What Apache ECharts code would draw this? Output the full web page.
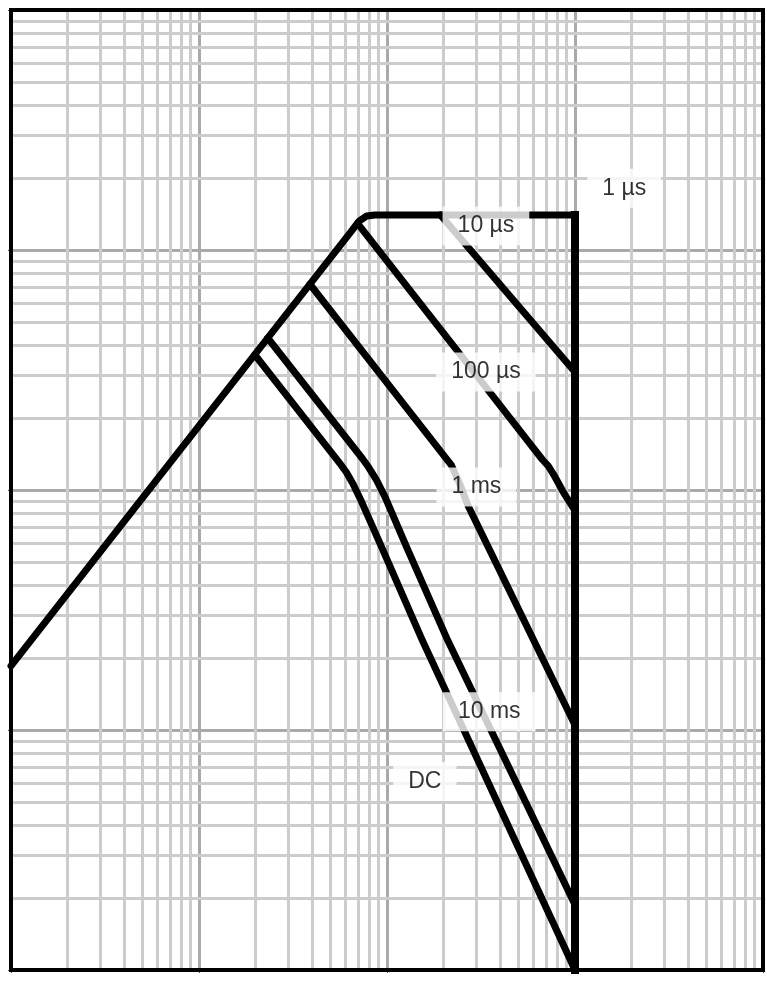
<!DOCTYPE html>
<html><head><meta charset="utf-8">
<script src="https://cdn.jsdelivr.net/npm/echarts@6/dist/echarts.min.js"></script>
<style>html,body{margin:0;padding:0;background:#fff}#c{width:767px;height:982px}</style>
</head><body><div id="c"></div>
<script>
// Axis decades (log-log SOA chart: V_DS [V] vs I_D [A]) – no tick labels shown
const xDecades = [0.1, 1, 10, 100, 1000];
const yDecades = [0.01, 0.1, 1, 10, 100];

// Curves [V, A]
const limitRdson = [[0.1,0.185],[6.5,12.04],[7.1,13.2],[7.8,13.85],[8.6,14],[100,14]];
const limitVds   = [[100,14],[100,0.01]];
const t10us  = [[19.24,14],[100,3.10]];
const t100us = [[6.97,12.9],[35,2.57],[67,1.34],[72,1.26],[77,1.16],[86,0.99],[100,0.82]];
const t1ms   = [[3.89,7.2],[22,1.27],[24.5,1.05],[27,0.86],[100,0.105]];
const t10ms  = [[2.32,4.3],[7.41,1.35],[8.0,1.24],[8.8,1.10],[9.8,0.93],[12.7,0.579],[21,0.237],[100,0.0187]];
const tDC    = [[1.98,3.66],[5.6,1.295],[6.1,1.18],[6.6,1.06],[7.2,0.92],[9.35,0.579],[15.4,0.237],[100,0.01]];

// Curve labels and their anchor points [V, A]
const labelTexts = ['1 µs','10 µs','100 µs','1 ms','10 ms','DC'];
const labelAnchors = [[182.7,18.1],[33.6,12.6],[33.6,3.1],[29.9,1.03],[35.0,0.119],[15.9,0.061]];

const minorMult = [2,3,4,5,6,7,8,9];
const xMinor = [], yMinor = [];
xDecades.slice(0,-1).forEach(d => minorMult.forEach(m => xMinor.push(+(d*m).toPrecision(3))));
yDecades.slice(0,-1).forEach(d => minorMult.forEach(m => yMinor.push(+(d*m).toPrecision(3))));

const chart = echarts.init(document.getElementById('c'));
const curveStyle = {color:'#000', width:7, join:'round', cap:'round'};
function curve(name, data, extra){
  return Object.assign({name, type:'line', data, symbol:'none', z:5,
    lineStyle:Object.assign({}, curveStyle), emphasis:{disabled:true}}, extra||{});
}
chart.setOption({
  animation:false,
  grid:{left:11, right:4, top:10, bottom:12, show:true, borderColor:'#000', borderWidth:4, z:10},
  xAxis:{type:'log', logBase:10, min:xDecades[0], max:xDecades[xDecades.length-1],
    axisLabel:{show:false}, axisLine:{show:true, lineStyle:{color:'#000', width:4}},
    axisTick:{show:true, length:3, lineStyle:{color:'#555', width:1}},
    splitLine:{show:true, lineStyle:{color:'#aaaaaa', width:3}}},
  yAxis:{type:'log', logBase:10, min:yDecades[0], max:yDecades[yDecades.length-1],
    axisLabel:{show:false}, axisLine:{show:true, lineStyle:{color:'#000', width:4}},
    axisTick:{show:true, length:3, lineStyle:{color:'#555', width:1}},
    splitLine:{show:true, lineStyle:{color:'#aaaaaa', width:3}}},
  series:[
    {type:'line', data:[[1,1]], symbol:'none', lineStyle:{opacity:0}, z:1, silent:true,
      markLine:{silent:true, symbol:'none', label:{show:false}, animation:false,
        lineStyle:{color:'#cccccc', width:3, type:'solid'},
        emphasis:{disabled:true},
        data:[...xMinor.map(v=>({xAxis:v})), ...yMinor.map(v=>({yAxis:v}))]}},
    curve('1 µs', limitRdson),
    curve('VDS limit', limitVds, {clip:false, lineStyle:{color:'#000', width:8, cap:'square'}}),
    curve('10 µs', t10us),
    curve('100 µs', t100us),
    curve('1 ms', t1ms),
    curve('10 ms', t10ms),
    curve('DC', tDC),
    {type:'scatter', symbolSize:0, z:20, silent:true, itemStyle:{color:'#fff'},
      data: labelAnchors.map((p,i)=>({value:p, name:labelTexts[i]})),
      label:{show:true, position:'inside', formatter:p=>p.name,
        fontFamily:'Liberation Sans, Arial, sans-serif', fontSize:23, color:'#000',
        textBorderWidth:0, textBorderColor:'transparent', textShadowBlur:0,
        backgroundColor:'#fff', padding:[8,15,8,15]}}
  ]
});
</script></body></html>
